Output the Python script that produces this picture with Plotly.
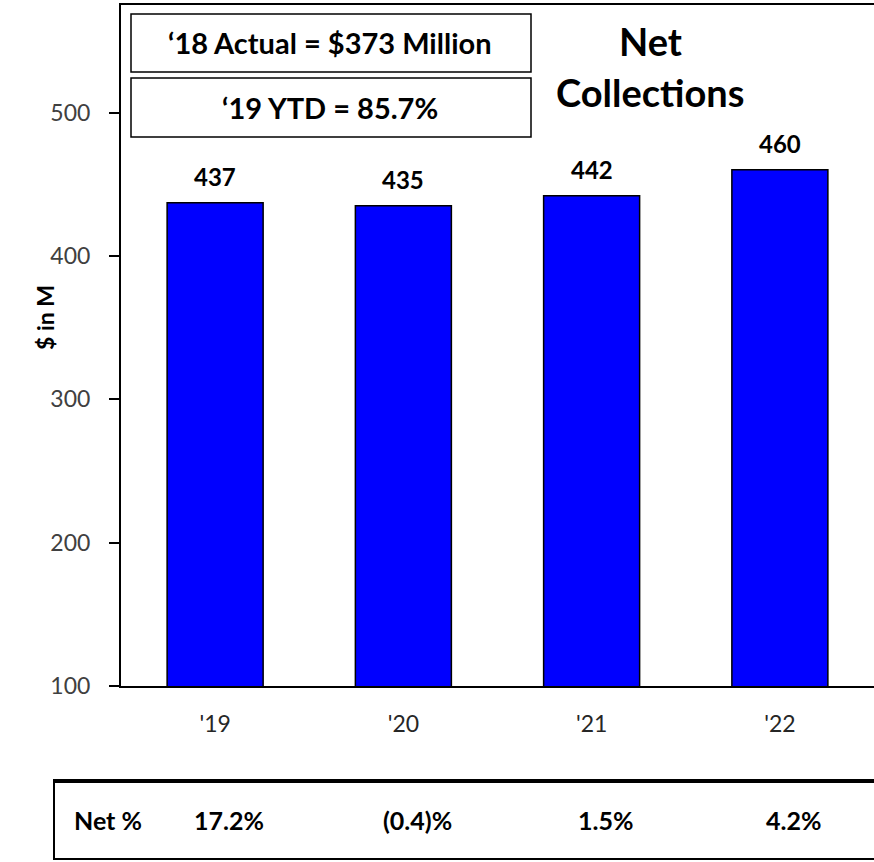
import plotly.graph_objects as go

# Net collections by year ($M)
years = ["'19", "'20", "'21", "'22"]
collections = [437, 435, 442, 460]
net_pct = ["17.2%", "(0.4)%", "1.5%", "4.2%"]
box_lines = ["\u201818 Actual = $373 Million", "\u201819 YTD = 85.7%"]
title_lines = ["Net", "Collections"]
y_title = "$ in M"

W, H = 874, 862
L, R, T, B = 121, 0, 5, 176
PW, PH = W - L - R, H - T - B

FONT = "Lato"


def px(xpix):
    return (xpix - L) / PW


def py(ypix):
    return (H - B - ypix) / PH


def paper_text(xpix, ypix, text, size, anchor="center", angle=0):
    return dict(x=px(xpix), y=py(ypix), xref="paper", yref="paper",
                text=f"<b>{text}</b>", showarrow=False, textangle=angle,
                xanchor=anchor, yanchor="middle",
                font=dict(family=FONT, size=size, color="black"))


fig = go.Figure()
fig.add_trace(go.Bar(
    x=years, y=collections, width=0.51,
    marker=dict(color="#0000FF", line=dict(color="black", width=1.5)),
    hoverinfo="skip", showlegend=False,
))

annotations = []
# value labels above bars
for yr, v in zip(years, collections):
    annotations.append(dict(x=yr, y=v, xref="x", yref="y", text=f"<b>{v}</b>",
                            showarrow=False, yshift=26, xanchor="center", yanchor="middle",
                            font=dict(family=FONT, size=24, color="black")))

# info boxes (top-left)
shapes = []
box_rows = [(14, 72), (78, 137)]
for (top, bot), txt in zip(box_rows, box_lines):
    shapes.append(dict(type="rect", xref="paper", yref="paper",
                       x0=px(131), x1=px(531), y0=py(bot), y1=py(top),
                       line=dict(color="black", width=1.5), fillcolor="white"))
    annotations.append(paper_text(330, (top + bot) / 2, txt, 29))

# chart title, two lines
annotations.append(paper_text(650, 41, title_lines[0], 38))
annotations.append(paper_text(650, 92, title_lines[1], 38))

# y-axis title
annotations.append(paper_text(45, 318, y_title, 23, angle=-90))

# bottom "Net %" table
shapes.append(dict(type="line", xref="paper", yref="paper",
                   x0=px(53), x1=px(874), y0=py(781), y1=py(781),
                   line=dict(color="black", width=4)))
shapes.append(dict(type="line", xref="paper", yref="paper",
                   x0=px(53), x1=px(874), y0=py(859), y1=py(859),
                   line=dict(color="black", width=2)))
shapes.append(dict(type="line", xref="paper", yref="paper",
                   x0=px(54), x1=px(54), y0=py(859), y1=py(781),
                   line=dict(color="black", width=2)))
annotations.append(paper_text(72, 820, "Net %", 25, anchor="left"))
for i, p in enumerate(net_pct):
    # table cells sit slightly right of the bar centres
    annotations.append(dict(x=i, y=py(820), xref="x", yref="paper",
                            text=f"<b>{p}</b>", showarrow=False, xshift=14,
                            xanchor="center", yanchor="middle",
                            font=dict(family=FONT, size=25, color="black")))

fig.update_layout(
    width=W, height=H,
    margin=dict(l=L, r=R, t=T, b=B),
    paper_bgcolor="white", plot_bgcolor="white",
    xaxis=dict(showline=True, linecolor="black", linewidth=2, mirror=True,
               ticks="", showgrid=False, range=[-0.5, 3.5],
               tickfont=dict(family=FONT, size=23, color="#262626"),
               ticklabelstandoff=16),
    yaxis=dict(range=[100, 575], tickvals=[100, 200, 300, 400, 500],
               showline=True, linecolor="black", linewidth=2,
               ticks="outside", ticklen=10, tickwidth=1.5, tickcolor="black",
               showgrid=False, zeroline=False,
               tickfont=dict(family=FONT, size=23, color="#404040"),
               ticklabelstandoff=14),
    shapes=shapes, annotations=annotations,
)

fig.write_html("out.html")
